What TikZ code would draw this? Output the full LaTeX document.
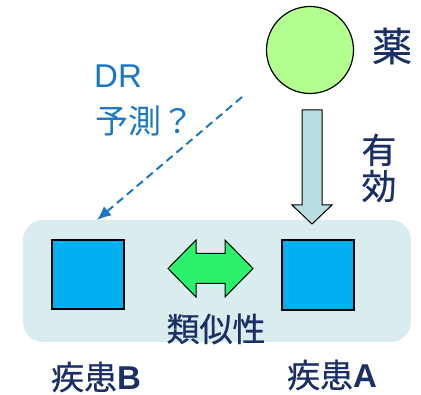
\documentclass[tikz,border=0pt]{standalone}
\usepackage{fontspec}
\usetikzlibrary{arrows.meta,positioning,calc}
\newfontfamily\jpfont{Noto Sans CJK JP}
\newfontfamily\jpheavy{Noto Sans CJK JP}[FakeBold=0.6]
\newfontfamily\latfont{Liberation Sans}
\definecolor{navy}{HTML}{1A2F66}
\definecolor{drblue}{HTML}{1878C8}
\definecolor{drugfill}{HTML}{B3FF8F}
\definecolor{shaftfill}{HTML}{B7DEE0}
\definecolor{panefill}{HTML}{DAEDEE}
\definecolor{sqfill}{HTML}{00B0F0}
\definecolor{simfill}{HTML}{2CF26B}

\begin{document}
\begin{tikzpicture}[
  x=1pt, y=-1pt,
  jptext/.style={font=\jpheavy\fontsize{33}{35}\selectfont, text=navy,
    inner sep=0pt, align=center},
  drtext/.style={font=\jpfont\fontsize{33}{35}\selectfont, text=drblue,
    inner sep=0pt},
  drug/.style={draw, circle, fill=drugfill, line width=1.2pt,
    minimum size=87pt, inner sep=0pt},
  pane/.style={fill=panefill, rounded corners=20pt, minimum width=388pt,
    minimum height=122pt, inner sep=0pt},
  disease/.style={draw, fill=sqfill, line width=1.2pt, minimum width=72pt,
    minimum height=69pt, inner sep=0pt},
  bigarrow/.style={draw, fill=shaftfill, line width=1pt, line join=miter},
  simarrow/.style={draw, fill=simfill, line width=1pt, line join=miter},
  predict/.style={draw=drblue, dash pattern=on 8pt off 5pt,
    line width=2pt, -{Latex[length=14pt, width=12pt]}}
]
  \useasboundingbox (0,0) rectangle (421,395);
  % Nodes
  \node[pane] (pane) at (217,281) {};
  \node[drug] (drug) at (310,50) {};
  \node[jptext, font=\jpheavy\fontsize{40}{42}\selectfont] (yaku) at (392,46) {薬};
  \node[disease] (disB) at (88,274.5) {};
  \node[disease, minimum height=70pt] (disA) at (318,275) {};
  \node[jptext] (sim) at (216,329) {類似性};
  \node[jptext] (labB) at (96,377) {疾患{\latfont\bfseries B}};
  \node[jptext] (labA) at (332,375) {疾患{\latfont\bfseries A}};
  \node[jptext, font=\jpheavy\fontsize{35}{36}\selectfont] (yuko) at (379,168) {有\\効};
  \node[drtext, anchor=west] (dr) at (94,76) {{\latfont DR}};
  \node[drtext, anchor=west] (yosoku) at (95,121) {予測？};
  % Arrows
  \coordinate (predfrom) at (242,97);
  \coordinate (predto) at (97,220);
  \draw[predict] (predfrom) -- (predto);
  \draw[bigarrow] (302,110) -- (322,110) -- (322,205) -- (332,205)
    -- (312,224) -- (292,205) -- (302,205) -- cycle;
  \draw[simarrow] (168,268.5) -- (196,240) -- (196,253.5) -- (225,253.5)
    -- (225,240) -- (253,268.5) -- (225,297) -- (225,283.5) -- (196,283.5)
    -- (196,297) -- cycle;
\end{tikzpicture}
\end{document}
